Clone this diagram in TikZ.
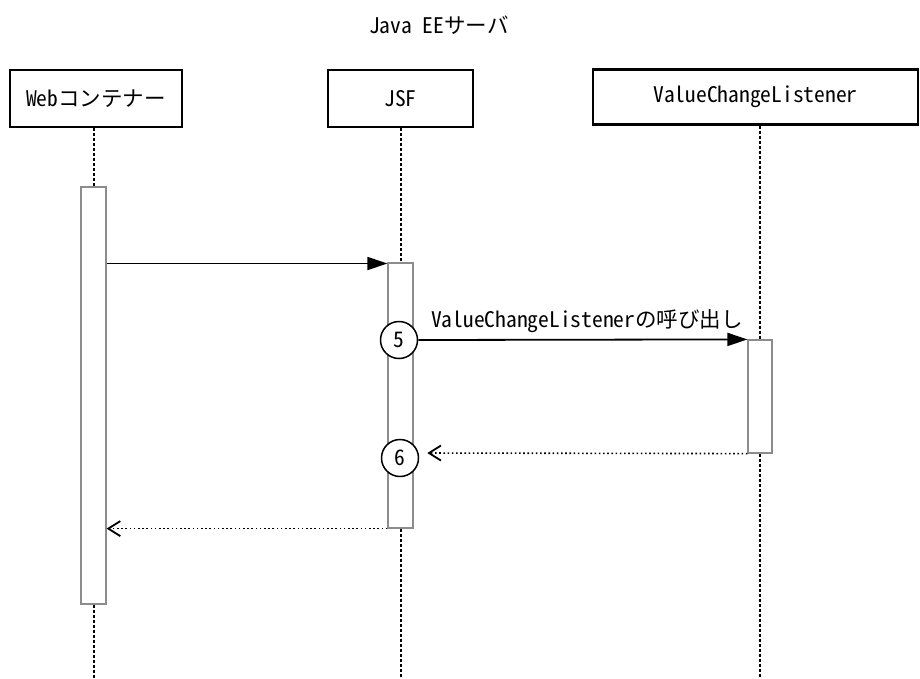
\documentclass[tikz,border=0pt]{standalone}
\usepackage{fontspec}
\setmainfont{Noto Sans CJK JP}[RawFeature=+hwid]
\usetikzlibrary{arrows.meta}
\begin{document}
\begin{tikzpicture}[x=1pt,y=-1pt,
  every node/.style={font=\fontsize{21.5}{25}\selectfont, inner sep=0pt},
  objbox/.style={draw=black, line width=2.2pt, fill=white, rectangle, minimum height=57pt},
  actbar/.style={draw=black!45, line width=1.2pt, fill=white, rectangle, minimum width=25pt},
  lifeline/.style={line width=2pt, dash pattern=on 3pt off 2pt},
  callarrow/.style={line width=1.8pt, -{Triangle[length=20pt,width=13pt]}},
  retarrow/.style={line width=1.6pt, dash pattern=on 1.6pt off 2.6pt, -{Straight Barb[length=12pt,width=15pt,line width=1.8pt]}},
  stepnum/.style={draw=black, line width=1.5pt, fill=white, circle, minimum size=37pt}]
\useasboundingbox (0,0) rectangle (920,678);
% title
\node (title) at (439,25) {Java EEサーバ};
% object boxes
\node[objbox, minimum width=172pt] (web) at (96,98.5) {Webコンテナー};
\node[objbox, minimum width=145pt] (jsf) at (400.5,98.5) {JSF};
\node[objbox, minimum width=325pt, minimum height=55pt] (vcl) at (755.5,97) {ValueChangeListener};
% activation bars
\node[actbar, minimum height=417pt] (webbar) at (93.5,395.5) {};
\node[actbar, minimum height=265pt] (jsfbar) at (400.5,395.5) {};
\node[actbar, minimum width=24pt, minimum height=113pt] (vclbar) at (760,396.5) {};
% lifeline ends
\coordinate (webend) at (93.5,678);
\coordinate (jsfend) at (400.5,678);
\coordinate (vclend) at (760,678);
\draw[lifeline] (web.south -| webbar.north) -- (webbar.north);
\draw[lifeline] (webbar.south) -- (webend);
\draw[lifeline] (jsf.south -| jsfbar.north) -- (jsfbar.north);
\draw[lifeline] (jsfbar.south) -- (jsfend);
\draw[lifeline] (vcl.south -| vclbar.north) -- (vclbar.north);
\draw[lifeline] (vclbar.south) -- (vclend);
% messages
\coordinate (m1) at (0,263.5);
\draw[callarrow] (webbar.east |- m1) -- (jsfbar.west |- m1);
\node[stepnum] (s5) at (399,340) {5};
\draw[callarrow] (s5.east) -- (vclbar.north west);
\node[anchor=base] (lbl5) at (587,327) {ValueChangeListenerの呼び出し};
\node[stepnum] (s6) at (400,458) {6};
\coordinate (m3) at (0,453);
\draw[retarrow, shorten >=8pt] (vclbar.south west) -- (s6.east |- m3);
\draw[retarrow] (jsfbar.south west) -- (webbar.east |- jsfbar.south);
\end{tikzpicture}
\end{document}
